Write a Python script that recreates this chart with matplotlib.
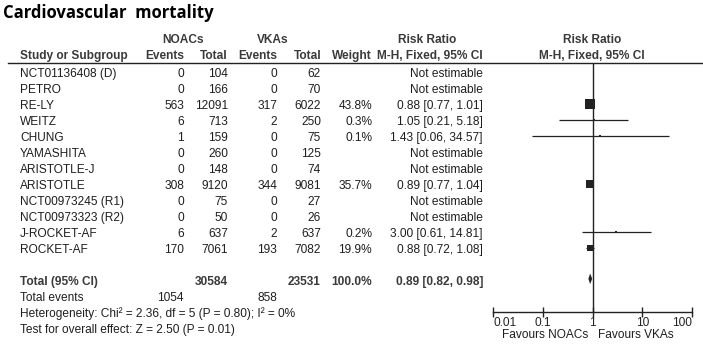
import numpy as np
import matplotlib
matplotlib.use('Agg')
import matplotlib.pyplot as plt

plt.rcParams['font.family'] = ['Liberation Sans', 'DejaVu Sans']

# data
studies = ['NCT01136408 (D)', 'PETRO', 'RE-LY', 'WEITZ', 'CHUNG', 'YAMASHITA',
           'ARISTOTLE-J', 'ARISTOTLE', 'NCT00973245 (R1)', 'NCT00973323 (R2)',
           'J-ROCKET-AF', 'ROCKET-AF']
noac_events = [0, 0, 563, 6, 1, 0, 0, 308, 0, 0, 6, 170]
noac_total = [104, 166, 12091, 713, 159, 260, 148, 9120, 75, 50, 637, 7061]
vka_events = [0, 0, 317, 2, 0, 0, 0, 344, 0, 0, 2, 193]
vka_total = [62, 70, 6022, 250, 75, 125, 74, 9081, 27, 26, 637, 7082]
weights = [None, None, 43.8, 0.3, 0.1, None, None, 35.7, None, None, 0.2, 19.9]
rr = [None, None, 0.88, 1.05, 1.43, None, None, 0.89, None, None, 3.00, 0.88]
rr_lo = [None, None, 0.77, 0.21, 0.06, None, None, 0.77, None, None, 0.61, 0.72]
rr_hi = [None, None, 1.01, 5.18, 34.57, None, None, 1.04, None, None, 14.81, 1.08]

total_noac, total_vka = 30584, 23531
events_noac, events_vka = 1054, 858
pooled, pooled_lo, pooled_hi = 0.89, 0.82, 0.98
heterogeneity = 'Heterogeneity: Chi\u00b2 = 2.36, df = 5 (P = 0.80); I\u00b2 = 0%'
overall = 'Test for overall effect: Z = 2.50 (P = 0.01)'
tick_vals = [0.01, 0.1, 1, 10, 100]
tick_labels = ['0.01', '0.1', '1', '10', '100']

W, H = 703, 356
FS = 8.6
TXT = '#1e1e1e'
HDR = '#3a3a3a'

def ypix(row):
    # row index -> pixel y of the text centre
    return 74 + 16 * row

fig = plt.figure(figsize=(W / 100, H / 100), dpi=100)
ax = fig.add_axes([0, 0, 1, 1])
ax.set_xlim(0, W)
ax.set_ylim(H, 0)
ax.axis('off')

ax.text(3, 13.5, 'Cardiovascular  mortality', fontsize=12, fontweight='bold',
        family='Open Sans', va='center', ha='left', color='black')

# headers
hk = dict(fontsize=FS, fontweight='bold', color=HDR, va='center')
ax.text(183, 40, 'NOACs', ha='center', **hk)
ax.text(273, 40, 'VKAs', ha='center', **hk)
ax.text(427, 40, 'Risk Ratio', ha='center', **hk)
ax.text(592, 40, 'Risk Ratio', ha='center', **hk)
ax.text(20, 56, 'Study or Subgroup', ha='left', **hk)
ax.text(184, 56, 'Events', ha='right', **hk)
ax.text(228, 56, 'Total', ha='right', **hk)
ax.text(277, 56, 'Events', ha='right', **hk)
ax.text(321, 56, 'Total', ha='right', **hk)
ax.text(372, 56, 'Weight', ha='right', **hk)
ax.text(483, 56, 'M-H, Fixed, 95% CI', ha='right', **hk)
ax.text(592, 56, 'M-H, Fixed, 95% CI', ha='center', **hk)
ax.plot([8, W], [62.7, 62.7], color='#222222', lw=1.0)

tk = dict(fontsize=FS, color=TXT, va='center')
for i, name in enumerate(studies):
    y = ypix(i)
    ax.text(20, y, name, ha='left', **tk)
    ax.text(184, y, str(noac_events[i]), ha='right', **tk)
    ax.text(228, y, str(noac_total[i]), ha='right', **tk)
    ax.text(277, y, str(vka_events[i]), ha='right', **tk)
    ax.text(321, y, str(vka_total[i]), ha='right', **tk)
    if rr[i] is None:
        ax.text(483, y, 'Not estimable', ha='right', **tk)
    else:
        ax.text(372, y, '%.1f%%' % weights[i], ha='right', **tk)
        ax.text(483, y, '%.2f [%.2f, %.2f]' % (rr[i], rr_lo[i], rr_hi[i]), ha='right', **tk)

ytot = ypix(13)
bk = dict(fontsize=FS, fontweight='bold', color=HDR, va='center')
ax.text(20, ytot, 'Total (95% CI)', ha='left', **bk)
ax.text(228, ytot, str(total_noac), ha='right', **bk)
ax.text(321, ytot, str(total_vka), ha='right', **bk)
ax.text(372, ytot, '100.0%', ha='right', **bk)
ax.text(483, ytot, '%.2f [%.2f, %.2f]' % (pooled, pooled_lo, pooled_hi), ha='right', **bk)

ax.text(20, ypix(14), 'Total events', ha='left', **tk)
ax.text(184, ypix(14), str(events_noac), ha='right', **tk)
ax.text(277, ypix(14), str(events_vka), ha='right', **tk)
ax.text(20, ypix(15), heterogeneity, ha='left', **tk)
ax.text(20, ypix(16), overall, ha='left', **tk)

# forest panel
x0, x1 = 493.3, 692.0
ytop, ybot = 62.7, 311.7
fax = fig.add_axes([x0 / W, 1 - ybot / H, (x1 - x0) / W, (ybot - ytop) / H])
fax.set_xscale('log')
fax.set_xlim(tick_vals[0], tick_vals[-1])
fax.set_ylim((ybot - 74) / 16, (ytop - 74) / 16)
fax.patch.set_alpha(0)
for s in ['top', 'left', 'right']:
    fax.spines[s].set_visible(False)
fax.spines['bottom'].set_linewidth(1.0)
fax.spines['bottom'].set_color('#222222')
fax.set_yticks([])
fax.set_xticks(tick_vals)
fax.set_xticklabels(tick_labels)
fax.minorticks_off()
fax.tick_params(axis='x', direction='inout', length=7.2, width=1.0, pad=0.5,
                labelsize=FS, colors='#222222')
labs = fax.get_xticklabels()
labs[0].set_ha('left')
labs[-1].set_ha('right')
fax.axvline(1, color='#222222', lw=1.0)

off = -0.15
for i in range(len(studies)):
    if rr[i] is None:
        continue
    yy = i + off
    fax.plot([rr_lo[i], rr_hi[i]], [yy, yy], color='#222222', lw=0.9, solid_capstyle='butt')
    side = max(1.36 * np.sqrt(weights[i]), 2.0)
    fax.plot([rr[i]], [yy], marker='s', ms=side * 0.72, color='#222222', mew=0)

yd = 13 - 0.2
hh = 0.33
fax.fill([pooled_lo, pooled, pooled_hi, pooled], [yd, yd - hh, yd, yd + hh],
         color='#222222', lw=0)

ax.text(588, 335, 'Favours NOACs', ha='right', **tk)
ax.text(598, 335, 'Favours VKAs', ha='left', **tk)

fig.savefig('out.png', dpi=100)
